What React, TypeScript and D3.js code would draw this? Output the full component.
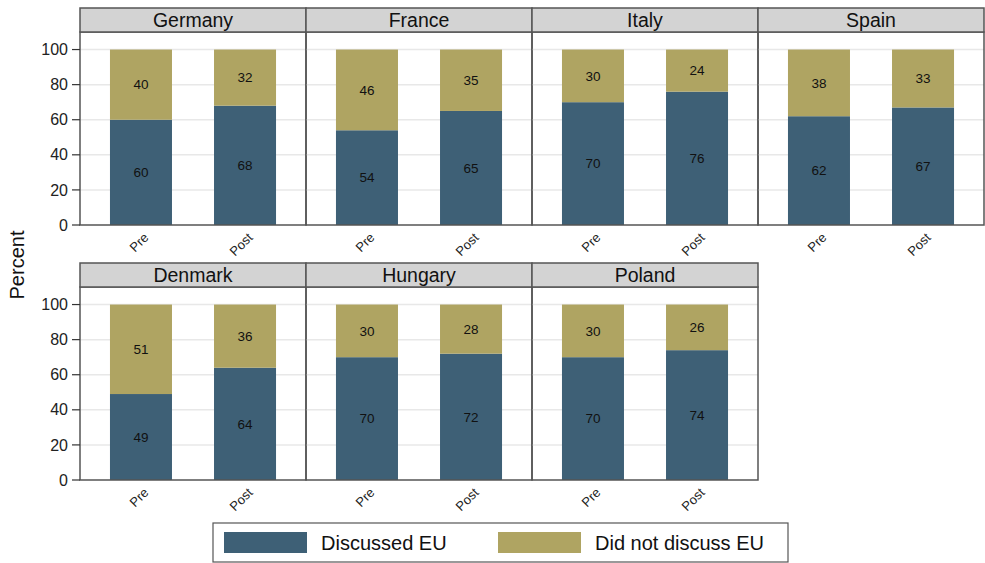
import React from 'react';
import { scaleLinear, scaleBand } from 'd3';

// values
const countries = ['Germany', 'France', 'Italy', 'Spain', 'Denmark', 'Hungary', 'Poland'];
const periods = ['Pre', 'Post'];
const discussedPre = [60, 54, 70, 62, 49, 70, 70];
const discussedPost = [68, 65, 76, 67, 64, 72, 74];
const notDiscussedPre = [40, 46, 30, 38, 51, 30, 30];
const notDiscussedPost = [32, 35, 24, 33, 36, 28, 26];
const yTicks = [0, 20, 40, 60, 80, 100];
const seriesNames = ['Discussed EU', 'Did not discuss EU'];

const colors = { discussed: '#3e6076', notDiscussed: '#afa462' };
const font = 'Liberation Sans, Arial, Helvetica, sans-serif';

const width = 985;
const height = 563;
const perRow = 4;
const rowTops = [8, 263]; // top of header strip for each row
const stripH = 24;
const plotH = 193; // strip bottom to zero line

const colScale = scaleBand<number>().domain([0, 1, 2, 3]).range([80, 984]).padding(0);
const xInner = scaleBand<string>()
  .domain(periods)
  .range([0, colScale.bandwidth()])
  .paddingInner(0.404)
  .paddingOuter(0.288);

const Panel: React.FC<{ idx: number }> = ({ idx }) => {
  const row = Math.floor(idx / perRow);
  const col = idx % perRow;
  const x0 = colScale(col) as number;
  const w = colScale.bandwidth();
  const top = rowTops[row];
  const plotTop = top + stripH;
  const y = scaleLinear().domain([0, 110]).range([plotTop + plotH, plotTop]);
  const vals = [
    { period: 'Pre', d: discussedPre[idx], n: notDiscussedPre[idx] },
    { period: 'Post', d: discussedPost[idx], n: notDiscussedPost[idx] },
  ];
  return (
    <g>
      {yTicks.slice(1).map(t => (
        <line key={t} x1={x0} x2={x0 + w} y1={y(t)} y2={y(t)} stroke='#e8e8e8' strokeWidth={1.5} />
      ))}
      {vals.map(v => {
        const bx = x0 + (xInner(v.period) as number);
        const bw = xInner.bandwidth();
        const cx = bx + bw / 2;
        return (
          <g key={v.period}>
            <rect x={bx} y={y(v.d)} width={bw} height={y(0) - y(v.d)} fill={colors.discussed} />
            <rect x={bx} y={y(v.d + v.n)} width={bw} height={y(v.d) - y(v.d + v.n)} fill={colors.notDiscussed} />
            <text x={cx} y={y(v.d / 2)} dy='0.35em' textAnchor='middle' fontSize={13.5} fill='#111'>
              {v.d}
            </text>
            <text x={cx} y={y(v.d + v.n / 2)} dy='0.35em' textAnchor='middle' fontSize={13.5} fill='#111'>
              {v.n}
            </text>
            <text
              transform={`translate(${cx + 2},${y(0) + 7}) rotate(-45)`}
              textAnchor='end'
              dy='0.7em'
              fontSize={13}
              fill='#222'
            >
              {v.period}
            </text>
          </g>
        );
      })}
      <rect x={x0} y={plotTop} width={w} height={plotH} fill='none' stroke='#555' strokeWidth={1.5} />
      <rect x={x0} y={top} width={w} height={stripH} fill='#d3d3d3' stroke='#555' strokeWidth={1.5} />
      <text x={x0 + w / 2} y={top + stripH / 2} dy='0.36em' textAnchor='middle' fontSize={19.5} fill='#111'>
        {countries[idx]}
      </text>
    </g>
  );
};

const YAxis: React.FC<{ row: number }> = ({ row }) => {
  const plotTop = rowTops[row] + stripH;
  const y = scaleLinear().domain([0, 110]).range([plotTop + plotH, plotTop]);
  const x0 = colScale(0) as number;
  return (
    <g>
      {yTicks.map(t => (
        <g key={t}>
          <line x1={x0 - 8} x2={x0} y1={y(t)} y2={y(t)} stroke='#333' strokeWidth={1.2} />
          <text x={x0 - 12} y={y(t)} dy='0.35em' textAnchor='end' fontSize={16} fill='#222'>
            {t}
          </text>
        </g>
      ))}
    </g>
  );
};

export default function App() {
  const legendColors = [colors.discussed, colors.notDiscussed];
  const swatchX = [224, 498];
  return (
    <div>
      <style>{`body{margin:0}`}</style>
      <svg width={width} height={height} style={{ display: 'block', fontFamily: font }}>
        <rect width={width} height={height} fill='#fff' />
        {countries.map((c, i) => (
          <Panel key={c} idx={i} />
        ))}
        <YAxis row={0} />
        <YAxis row={1} />
        <text transform='translate(24,265) rotate(-90)' textAnchor='middle' fontSize={20} fill='#111'>
          Percent
        </text>
        <rect x={213} y={523} width={575} height={39} fill='#fff' stroke='#555' strokeWidth={1.2} />
        {seriesNames.map((s, i) => (
          <g key={s}>
            <rect x={swatchX[i]} y={532} width={83} height={21} fill={legendColors[i]} />
            <text x={swatchX[i] + 97} y={543} dy='0.36em' fontSize={20} fill='#111'>
              {s}
            </text>
          </g>
        ))}
      </svg>
    </div>
  );
}
